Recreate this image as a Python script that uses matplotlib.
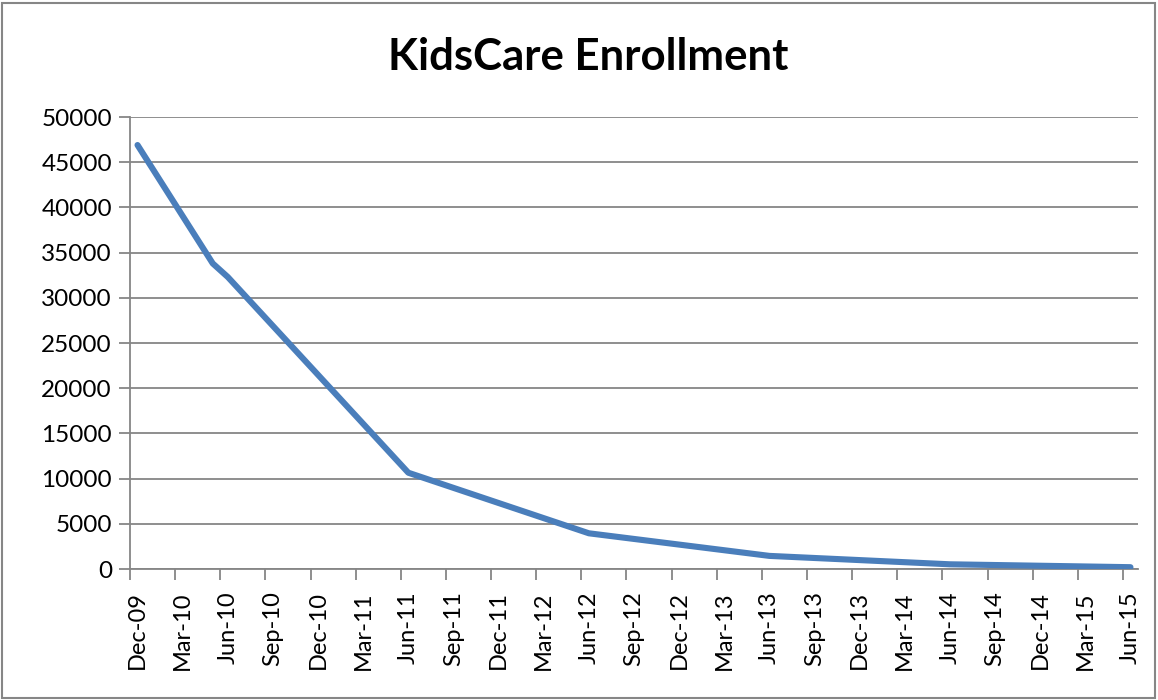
import matplotlib
matplotlib.use("Agg")
import matplotlib.pyplot as plt
from matplotlib.patches import Rectangle

# enrollment readings (month, count)
months = ["2009-12", "2010-05", "2010-06", "2011-06", "2012-06", "2013-06", "2014-06", "2015-06"]
enrollment = [46900, 33800, 32300, 10650, 3950, 1450, 520, 200]

tick_labels = ["Dec-09", "Mar-10", "Jun-10", "Sep-10", "Dec-10", "Mar-11", "Jun-11", "Sep-11",
               "Dec-11", "Mar-12", "Jun-12", "Sep-12", "Dec-12", "Mar-13", "Jun-13", "Sep-13",
               "Dec-13", "Mar-14", "Jun-14", "Sep-14", "Dec-14", "Mar-15", "Jun-15"]


def month_index(s):
    y, m = s.split("-")
    return (int(y) - 2009) * 12 + int(m) - 12


plt.rcParams['font.family'] = ['Lato', 'DejaVu Sans']

fig = plt.figure(figsize=(11.58, 7), dpi=100)
ax = fig.add_axes([130 / 1158, 131 / 700, 1008 / 1158, 452 / 700])

# points sit in the middle of their month, ticks on month starts
x = [month_index(m) + 0.5 for m in months]
ax.plot(x, enrollment, color='#4A7EBB', lw=4.4, solid_capstyle='round', solid_joinstyle='round', zorder=3)

n_months = month_index("2015-06") + 1
ax.set_xlim(0, n_months)
ax.set_ylim(0, 50000)
ax.set_xticks([3 * i for i in range(len(tick_labels))])
ax.set_xticklabels([])
# labels centred on the month itself
ax.set_xticks([3 * i + 0.5 for i in range(len(tick_labels))], minor=True)
ax.set_xticklabels(tick_labels, minor=True, rotation=90, fontsize=17)
ax.tick_params(axis='x', which='minor', length=0, pad=16)
ax.set_yticks(range(0, 50001, 5000))
ax.tick_params(axis='y', labelsize=17.5, length=8, width=1.3, color='#868686', pad=5)
ax.tick_params(axis='x', which='major', length=8, width=1.3, color='#868686')

ax.grid(axis='y', color='#868686', lw=1.3)
ax.set_axisbelow(True)
for side in ['top', 'right']:
    ax.spines[side].set_visible(False)
for side in ['left', 'bottom']:
    ax.spines[side].set_color('#868686')
    ax.spines[side].set_linewidth(1.3)

fig.text(588 / 1158, 1 - 57 / 700, "KidsCare Enrollment", ha='center', va='center',
         fontsize=31.5, fontweight='bold')

fig.patches.append(Rectangle((2 / 1158, 2 / 700), 1153 / 1158, 695 / 700, transform=fig.transFigure,
                             fill=False, edgecolor='#868686', lw=1.5))

fig.savefig("out.png", dpi=100)
